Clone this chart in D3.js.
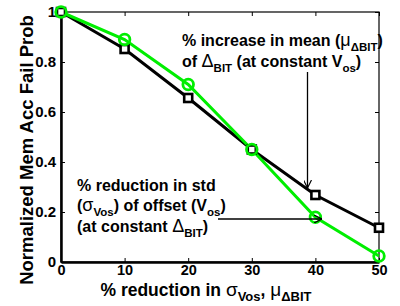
<!DOCTYPE html>
<html>
<head>
<meta charset="utf-8">
<style>
body { margin: 0; background: #fff; }
svg text { font-family: "Liberation Sans", Arial, sans-serif; font-weight: bold; }
.greek { font-weight: normal; }
</style>
</head>
<body>
<div id="chart"></div>
<script src="https://d3js.org/d3.v7.min.js"></script>
<script>
// values
const xVals = [0, 10, 20, 30, 40, 50];
const meanSeries = [1.0, 0.852, 0.656, 0.45, 0.268, 0.137];   // black squares
const stdSeries = [1.0, 0.89, 0.71, 0.45, 0.179, 0.024];      // green circles
const yTicks = [0, 0.2, 0.4, 0.6, 0.8, 1];
const xTicks = [0, 10, 20, 30, 40, 50];

const width = 400, height = 306;
const margin = {top: 12, right: 21, bottom: 44, left: 61};
const iw = width - margin.left - margin.right;
const ih = height - margin.top - margin.bottom;

const svg = d3.select("#chart").append("svg")
  .attr("width", width)
  .attr("height", height);

const x = d3.scaleLinear().domain([0, 50]).range([margin.left, margin.left + iw]);
const y = d3.scaleLinear().domain([0, 1]).range([margin.top + ih, margin.top]);

// frame: top and right thin
svg.append("rect")
  .attr("x", x(0)).attr("y", y(1))
  .attr("width", iw).attr("height", ih)
  .attr("fill", "none").attr("stroke", "#000").attr("stroke-width", 1.2);

// inward ticks on top and right
svg.append("g")
  .attr("transform", `translate(0,${y(1)})`)
  .call(d3.axisTop(x).tickValues(xTicks).tickSize(-4).tickFormat(""))
  .call(g => g.select(".domain").remove())
  .selectAll("line").attr("stroke-width", 1);
svg.append("g")
  .attr("transform", `translate(${x(50)},0)`)
  .call(d3.axisRight(y).tickValues(yTicks).tickSize(-4).tickFormat(""))
  .call(g => g.select(".domain").remove())
  .selectAll("line").attr("stroke-width", 1);

// bottom axis
const xAxis = svg.append("g")
  .attr("transform", `translate(0,${y(0)})`)
  .call(d3.axisBottom(x).tickValues(xTicks).tickSizeInner(-4).tickSizeOuter(0).tickPadding(3));
xAxis.select(".domain").attr("stroke-width", 2.5);
xAxis.selectAll(".tick line").attr("stroke-width", 1);
xAxis.selectAll("text").attr("font-size", 14.5).attr("font-family", "Liberation Sans").attr("font-weight", "bold").attr("fill", "#000");

// left axis
const yAxis = svg.append("g")
  .attr("transform", `translate(${x(0)},0)`)
  .call(d3.axisLeft(y).tickValues(yTicks).tickFormat(d => d === 0 || d === 1 ? d : d.toFixed(1))
    .tickSizeInner(-4).tickSizeOuter(0).tickPadding(5));
yAxis.select(".domain").attr("stroke-width", 2.5);
yAxis.selectAll(".tick line").attr("stroke-width", 1);
yAxis.selectAll("text").attr("font-size", 15).attr("font-family", "Liberation Sans").attr("font-weight", "bold").attr("fill", "#000");

// series
const line = d3.line().x((d, i) => x(xVals[i])).y(d => y(d));

svg.append("path").datum(meanSeries)
  .attr("d", line).attr("fill", "none").attr("stroke", "#000").attr("stroke-width", 3);
svg.append("path").datum(stdSeries)
  .attr("d", line).attr("fill", "none").attr("stroke", "#00ee00").attr("stroke-width", 3);

svg.append("g").selectAll("rect")
  .data(meanSeries)
  .join("rect")
  .attr("x", (d, i) => x(xVals[i]) - 4)
  .attr("y", d => y(d) - 4)
  .attr("width", 8).attr("height", 8)
  .attr("fill", "#fff").attr("stroke", "#000").attr("stroke-width", 2.6);

svg.append("g").selectAll("circle")
  .data(stdSeries)
  .join("circle")
  .attr("cx", (d, i) => x(xVals[i]))
  .attr("cy", d => y(d))
  .attr("r", 5.3)
  .attr("fill", "none").attr("stroke", "#00ee00").attr("stroke-width", 2.8);

// arrows
svg.append("defs").append("marker")
  .attr("id", "arrow").attr("viewBox", "0 0 10 10")
  .attr("refX", 10).attr("refY", 5)
  .attr("markerWidth", 8).attr("markerHeight", 8)
  .attr("markerUnits", "userSpaceOnUse")
  .attr("orient", "auto")
  .append("path").attr("d", "M0,0 L10,5 L0,10").attr("fill", "none").attr("stroke", "#000").attr("stroke-width", 1.5);

svg.append("line")
  .attr("x1", 307.5).attr("y1", 72).attr("x2", 307.5).attr("y2", 188)
  .attr("stroke", "#000").attr("stroke-width", 1.3).attr("marker-end", "url(#arrow)");
svg.append("line")
  .attr("x1", 218).attr("y1", 219).attr("x2", 322).attr("y2", 219)
  .attr("stroke", "#000").attr("stroke-width", 1.3).attr("marker-end", "url(#arrow)");

// rich text helper: parts are [text, kind] with kind "", "g" (greek), "s" (subscript), "r" (back to baseline)
function rich(xp, yp, parts, size) {
  const t = svg.append("text").attr("x", xp).attr("y", yp).attr("font-size", size).attr("fill", "#000");
  parts.forEach(([s, k]) => {
    const ts = t.append("tspan").text(s);
    if (k === "g") ts.attr("class", "greek").attr("font-size", size + 2);
    if (k === "s") ts.attr("font-size", size * 0.72).attr("dy", 5);
    if (k === "r") ts.attr("dy", -5);
  });
  return t;
}

rich(182, 46, [["% increase in mean (", ""], ["μ", "g"], ["ΔBIT", "s"], [")", "r"]], 16);
rich(182, 67, [["of ", ""], ["Δ", "g"], ["BIT", "s"], [" (at constant V", "r"], ["os", "s"], [")", "r"]], 16);

rich(77, 191, [["% reduction in std", ""]], 16);
rich(77, 211, [["(", ""], ["σ", "g"], ["Vos", "s"], [") of offset (V", "r"], ["os", "s"], [")", "r"]], 16);
rich(77, 232, [["(at constant ", ""], ["Δ", "g"], ["BIT", "s"], [")", "r"]], 16);

// axis titles
const xt = svg.append("text").attr("x", 206).attr("y", 296)
  .attr("text-anchor", "middle").attr("font-size", 17.5).attr("fill", "#000");
xt.append("tspan").text("% reduction in ");
xt.append("tspan").attr("class", "greek").attr("font-size", 19).text("σ");
xt.append("tspan").attr("font-size", 13).attr("dy", 5).text("Vos");
xt.append("tspan").attr("dy", -5).text(", ");
xt.append("tspan").attr("class", "greek").attr("font-size", 19).text("μ");
xt.append("tspan").attr("font-size", 13).attr("dy", 5).text("ΔBIT");

svg.append("text")
  .attr("transform", `translate(33,${(y(0) + y(1)) / 2 + 13}) rotate(-90)`)
  .attr("text-anchor", "middle").attr("font-size", 18.5).attr("fill", "#000")
  .text("Normalized Mem Acc Fail Prob");
</script>
</body>
</html>
